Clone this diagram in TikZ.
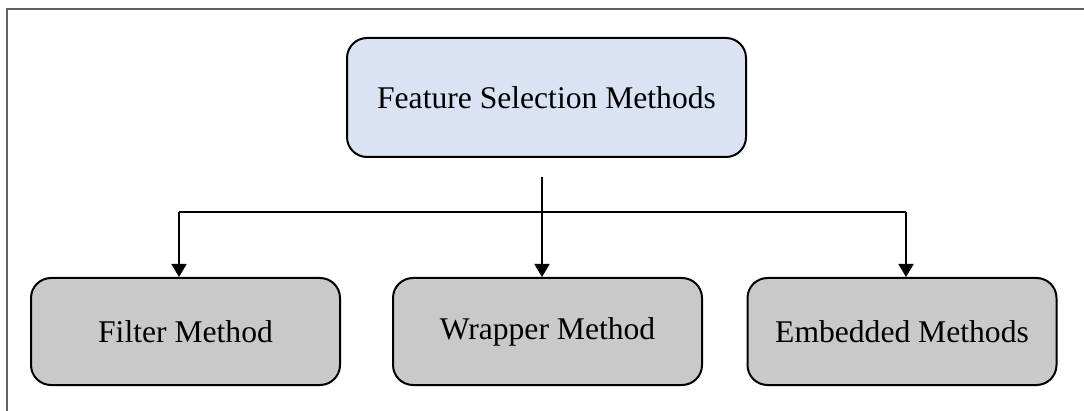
\documentclass[tikz,border=0pt]{standalone}
\usepackage{fontspec}
\setmainfont{Liberation Serif}
\usetikzlibrary{arrows.meta}
\definecolor{topfill}{HTML}{DAE3F3}
\definecolor{subfill}{HTML}{C9C9C9}
\definecolor{framecol}{HTML}{606060}
\begin{document}
\begin{tikzpicture}[x=1pt,y=-1pt,
  boxbase/.style={draw=black, line width=2pt, rounded corners=20pt, align=center,
    font=\fontsize{31.6}{37}\selectfont, inner sep=0pt},
  topbox/.style={boxbase, fill=topfill, minimum width=399pt, minimum height=119pt},
  subbox/.style={boxbase, fill=subfill, minimum width=309pt, minimum height=107pt},
  link/.style={line width=1.8pt, draw=black},
  arrowlink/.style={link, -{Triangle[width=15pt,length=13pt]}},
  framestyle/.style={line width=1.5pt, draw=framecol}
]
\useasboundingbox (0,0) rectangle (1084,411);
\draw[framestyle] (7,411) -- (7,9) -- (1084,9);
\node[topbox] (top) at (546.5,97.5) {Feature Selection Methods};
\node[subbox] (filter) at (185.5,331.5) {Filter Method};
\node[subbox] (wrap) at (547.5,331.5) {Wrapper Method};
\node[subbox] (emb) at (902,331.5) {Embedded Methods};
\coordinate (s) at (542,177);
\coordinate (hl) at (179,212);
\coordinate (hr) at (906,212);
\coordinate (hm) at (542,212);
\draw[link] (hl) -- (hr);
\draw[arrowlink] (s) -- (s |- wrap.north);
\draw[arrowlink] (hl) -- (hl |- filter.north);
\draw[arrowlink] (hr) -- (hr |- emb.north);
\end{tikzpicture}
\end{document}
